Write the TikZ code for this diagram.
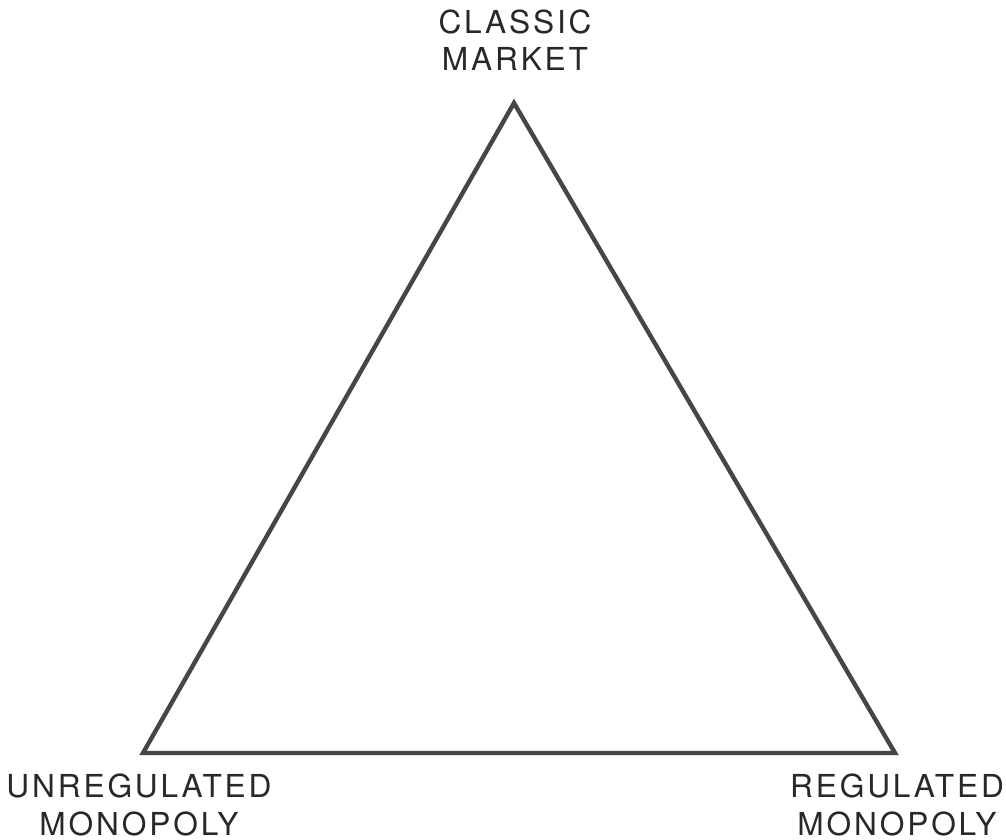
\documentclass[tikz,border=0pt]{standalone}
\usepackage{fontspec}
\setmainfont{TeX Gyre Heros}[LetterSpace=9]
\usepackage{tikz}
\usetikzlibrary{positioning}
\usepackage{xcolor}
\definecolor{inkgray}{RGB}{70,70,70}
\definecolor{textgray}{RGB}{40,40,40}

\begin{document}
\begin{tikzpicture}[x=0.01cm, y=-0.01cm,
    corner/.style={align=center, inner sep=0pt, text=textgray,
        font=\fontsize{9}{10.6}\selectfont}]
    \useasboundingbox (0,0) rectangle (1006,840);

    % Vertices
    \coordinate (market) at (514,103);
    \coordinate (unreg) at (143,753);
    \coordinate (reg) at (895,753);

    % Triangle
    \draw[inkgray, line width=1.25pt, line join=miter] (market) -- (reg) -- (unreg) -- cycle;

    % Labels
    \node[corner] (marketlbl) at (515,40) {CLASSIC\\MARKET};
    \node[corner] (unreglbl) at (139,805) {UNREGULATED\\MONOPOLY};
    \node[corner] (reglbl) at (897,805) {REGULATED\\MONOPOLY};
\end{tikzpicture}
\end{document}
